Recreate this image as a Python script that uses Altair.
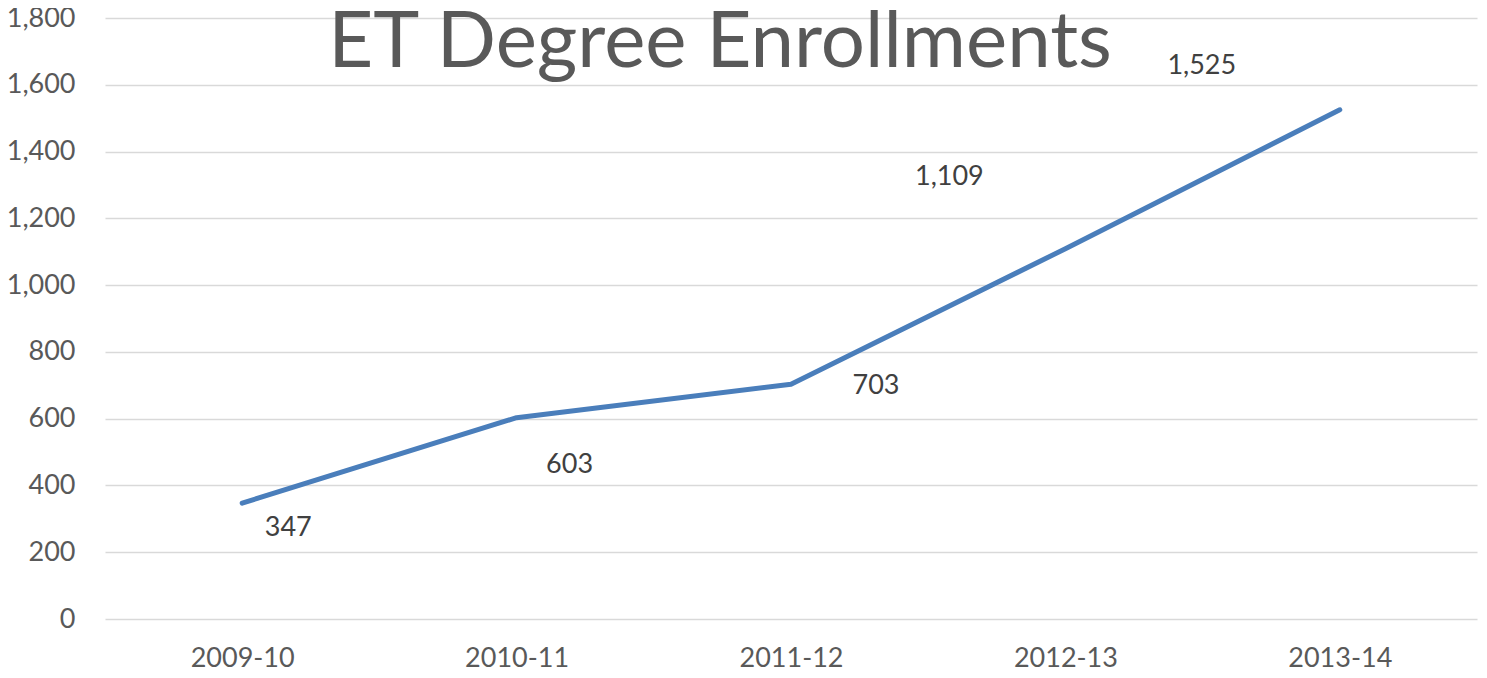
import altair as alt
import pandas as pd

years = ["2009-10", "2010-11", "2011-12", "2012-13", "2013-14"]
enrollments = [347, 603, 703, 1109, 1525]
labels = ["347", "603", "703", "1,109", "1,525"]
title_text = ["ET Degree Enrollments"]

df = pd.DataFrame({"year": years, "value": enrollments, "label": labels})

FONT = "Lato"
TXT = "#595959"

x_scale = alt.Scale(type="point", padding=0.5)
y_scale = alt.Scale(domain=[0, 1800], nice=False)

x_enc = alt.X("year:N", sort=years, title=None, scale=x_scale,
              axis=alt.Axis(labelAngle=0, labelFont=FONT, labelFontSize=27,
                            labelColor=TXT, ticks=False, domain=False,
                            grid=False, labelPadding=26))
y_enc = alt.Y("value:Q", title=None, scale=y_scale,
              axis=alt.Axis(values=list(range(0, 1801, 200)), format=",.0f",
                            labelFont=FONT, labelFontSize=27, labelColor=TXT,
                            ticks=False, domain=False, labelPadding=30,
                            gridColor="#d9d9d9", gridWidth=1.5))

line = alt.Chart(df).mark_line(color="#4a7ebb", strokeWidth=5,
                               strokeCap="round", strokeJoin="round").encode(
    x=x_enc, y=y_enc)

# per-label placement offsets (style only)
offsets = [(46, 25), (53, 47), (85, 2), (-116, -72), (-138, -44)]
texts = []
for i, (dx, dy) in enumerate(offsets):
    t = alt.Chart(df.iloc[[i]]).mark_text(
        font=FONT, fontSize=27, color="#404040", dx=dx, dy=dy,
        align="center", baseline="middle").encode(
        x=alt.X("year:N", sort=years, scale=x_scale, title=None),
        y=alt.Y("value:Q", scale=y_scale, title=None),
        text="label:N")
    texts.append(t)

title = alt.Chart(pd.DataFrame({"t": title_text})).mark_text(
    font=FONT, fontSize=78, color=TXT, align="center",
    baseline="alphabetic").encode(
    x=alt.value(615), y=alt.value(49), text="t:N")

chart = alt.layer(line, *texts, title).properties(
    width=1372, height=601,
    background="white",
    autosize=alt.AutoSizeParams(type="none"),
    padding={"left": 97, "top": 10, "right": 2, "bottom": 51},
).configure_view(strokeWidth=0)

chart.save("out.html", embed_options={"renderer": "svg", "actions": False})
